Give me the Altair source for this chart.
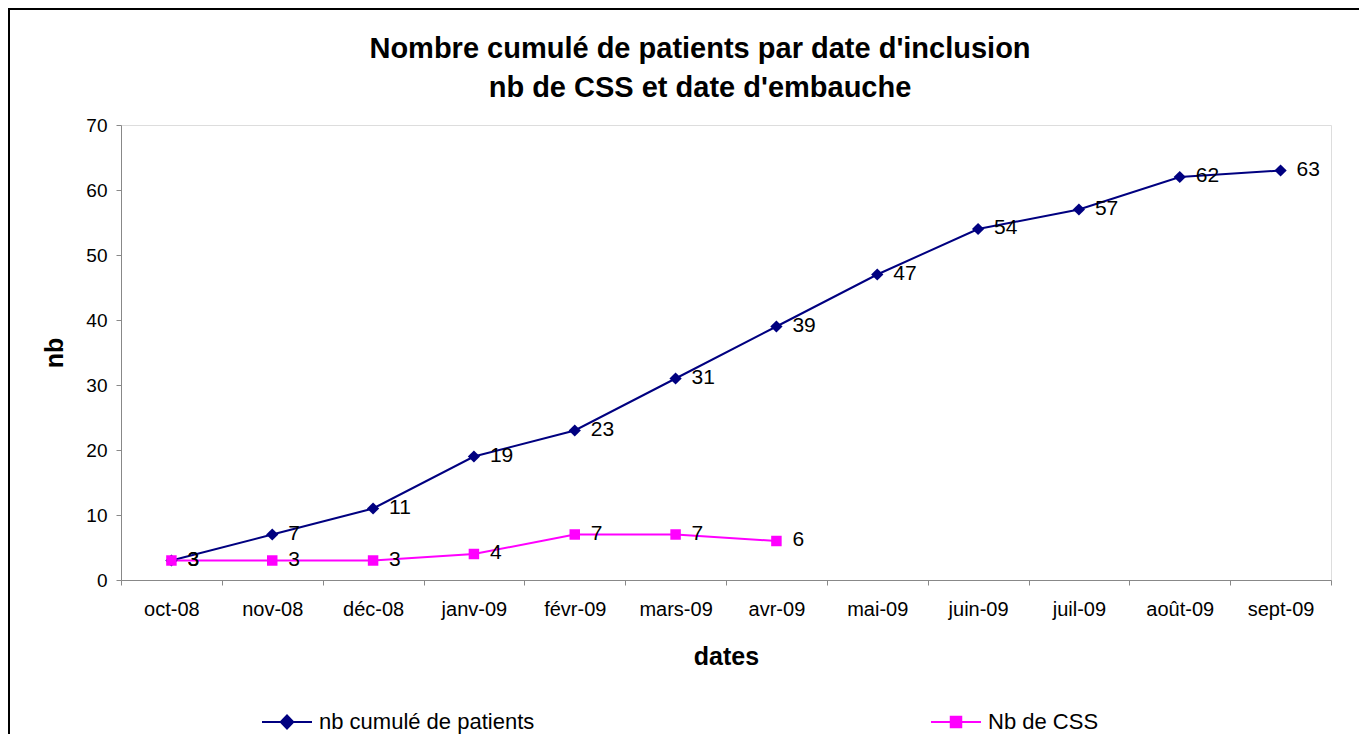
import altair as alt
import pandas as pd

# ---- data ----
months = ["oct-08", "nov-08", "déc-08", "janv-09", "févr-09", "mars-09",
          "avr-09", "mai-09", "juin-09", "juil-09", "août-09", "sept-09"]
patients = [3, 7, 11, 19, 23, 31, 39, 47, 54, 57, 62, 63]
css = [3, 3, 3, 4, 7, 7, 6]
series_names = ["nb cumulé de patients", "Nb de CSS"]
colors = ["#000080", "#FF00FF"]
y_ticks = [0, 10, 20, 30, 40, 50, 60, 70]
title_lines = ["Nombre cumulé de patients par date d'inclusion",
               "nb de CSS et date d'embauche"]

rows = ([{"series": series_names[0], "month": m, "value": v} for m, v in zip(months, patients)]
        + [{"series": series_names[1], "month": m, "value": v} for m, v in zip(months, css)])
df = pd.DataFrame(rows)

FONT = "Liberation Sans"
W, H = 1210, 455

x = alt.X("month:N", sort=months,
          scale=alt.Scale(type="band", domain=months, paddingInner=0, paddingOuter=0),
          axis=alt.Axis(title="dates", tickBand="extent", labelAngle=0, labelFontSize=20,
                        labelPadding=14, tickSize=5, titleFontSize=25, titleFontWeight="bold",
                        titleX=W / 2, titleY=84, titleBaseline="alphabetic", titleAlign="center"))
y = alt.Y("value:Q", scale=alt.Scale(domain=[0, 70], nice=False, zero=True),
          axis=alt.Axis(title="nb", values=y_ticks, labelFontSize=19, labelPadding=9, tickSize=5,
                        grid=False, titleFontSize=25, titleFontWeight="bold", titleAngle=270,
                        titleX=-59, titleY=H / 2, titleBaseline="alphabetic", titleAlign="center"))

leg = alt.Legend(title=None, orient="none", legendX=140, legendY=571, direction="horizontal",
                 columnPadding=392, labelFontSize=22, labelOffset=6, labelLimit=500,
                 symbolSize=2500, symbolStrokeWidth=2, symbolOpacity=1,
                 labelFont=FONT, labelColor="black")

base = alt.Chart()

lines = base.mark_line(strokeWidth=2).encode(
    x=x, y=y,
    color=alt.Color("series:N", scale=alt.Scale(domain=series_names, range=colors), legend=leg))

pts_a = base.mark_point(shape="diamond", filled=True, size=150, opacity=1, color=colors[0]).encode(
    x=x, y=y).transform_filter(alt.datum.series == series_names[0])
pts_b = base.mark_point(shape="square", filled=True, size=110, opacity=1, color=colors[1]).encode(
    x=x, y=y).transform_filter(alt.datum.series == series_names[1])

labels = base.mark_text(align="left", baseline="middle", dx=16, dy=-1, fontSize=21,
                        font=FONT, color="black").encode(x=x, y=y, text="value:Q")

# legend-only layer: gives the legend its line+marker symbols
legend_paths = ["M-1,0L1,0M-0.25,0L0,-0.26L0.25,0L0,0.26Z",
                "M-1,0L1,0M-0.21,-0.21L0.21,-0.21L0.21,0.21L-0.21,0.21Z"]
legend_layer = base.mark_point(filled=True, strokeWidth=2, size=2500, opacity=1).encode(
    x=x, y=y,
    fill=alt.Fill("series:N", scale=alt.Scale(domain=series_names, range=colors), legend=leg),
    shape=alt.Shape("series:N", scale=alt.Scale(domain=series_names, range=legend_paths), legend=leg),
).transform_filter("false")

frame = alt.Chart(pd.DataFrame({"f": [0]})).mark_rect(
    fillOpacity=0, stroke="black", strokeWidth=2, clip=False).encode(
    x=alt.value(-112), x2=alt.value(1400), y=alt.value(-116), y2=alt.value(900))

chart = alt.layer(frame, lines, pts_a, pts_b, labels, legend_layer, data=df).properties(
    width=W, height=H,
    padding={"left": 113, "top": 117, "right": 28, "bottom": 154},
    autosize=alt.AutoSizeParams(type="none"),
    title=alt.TitleParams(text=title_lines, fontSize=29, fontWeight="bold", font=FONT,
                          color="black", lineHeight=39, anchor="middle", dx=-26, offset=-95),
).configure_view(stroke=None).configure_axis(
    labelFont=FONT, titleFont=FONT, labelColor="black", titleColor="black",
    domainColor="black", tickColor="black", domainWidth=1, tickWidth=1
).configure(background="white")

chart.save("out.html", embed_options={"renderer": "svg", "actions": False})
